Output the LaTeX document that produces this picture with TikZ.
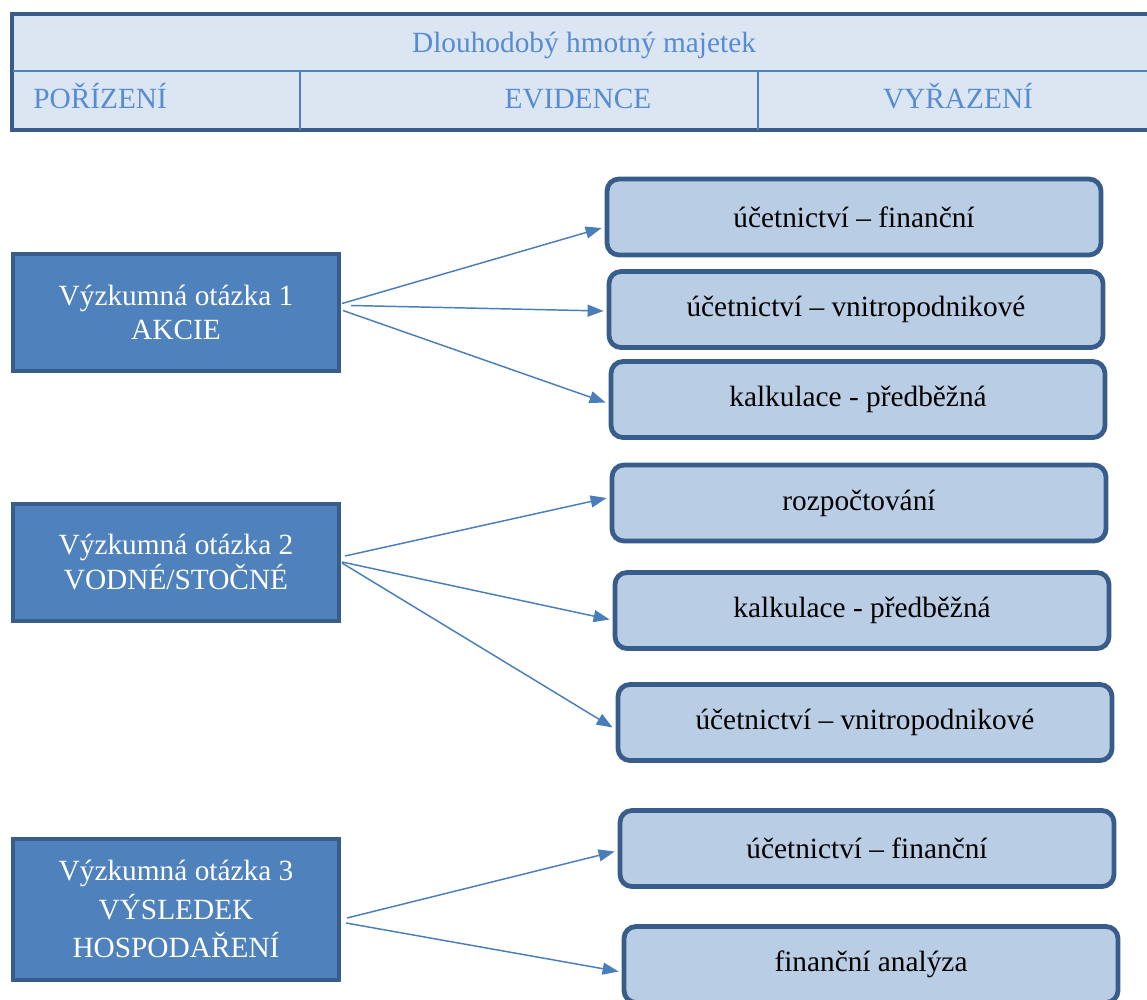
\documentclass[tikz,border=0pt]{standalone}
\usepackage{fontspec}
\setmainfont{Liberation Serif}
\usetikzlibrary{calc,arrows.meta}

\definecolor{qfill}{RGB}{79,129,189}
\definecolor{qborder}{RGB}{56,93,138}
\definecolor{afill}{RGB}{185,205,229}
\definecolor{hfill}{RGB}{220,230,242}
\definecolor{htext}{RGB}{85,140,210}
\definecolor{linkcol}{RGB}{74,126,187}

\tikzset{
  basefont/.style={font=\fontsize{22}{26}\selectfont},
  question/.style={draw=qborder, fill=qfill, line width=3pt, text=white,
    align=center, inner sep=0pt, minimum width=326*0.75pt, basefont},
  answer/.style={draw=qborder, fill=afill, line width=3.6pt, rounded corners=9pt,
    inner sep=0pt, minimum width=494*0.75pt, minimum height=76*0.75pt, basefont},
  headtext/.style={text=htext, inner sep=0pt, basefont},
  divider/.style={draw=qfill, line width=1.3pt},
  link/.style={draw=linkcol, line width=1.1pt, -{Triangle[length=12pt,width=9pt]}}
}

\begin{document}
\begin{tikzpicture}[x=0.75pt,y=-0.75pt]
\useasboundingbox (0,0) rectangle (1147,1000);
\clip (0,0) rectangle (1147,1000);

% header table
\node[draw=qborder, fill=hfill, line width=3pt, inner sep=0pt,
      minimum width=1148*0.75pt, minimum height=116*0.75pt] (hdr) at (586,72) {};
\draw[divider] (13,71) -- (1160,71);
\draw[divider, line width=1pt] (300,72) -- (300,130);
\draw[divider, line width=1pt] (758,72) -- (758,130);
\node[headtext, anchor=base] (title) at (584,52) {Dlouhodobý hmotný majetek};
\node[headtext, anchor=base west] (h1) at (33,108) {POŘÍZENÍ};
\node[headtext, anchor=base] (h2) at (578,108) {EVIDENCE};
\node[headtext, anchor=base] (h3) at (958,108) {VYŘAZENÍ};

% research questions
\node[question, minimum height=117*0.75pt] (q1) at (176,312.5)
  {Výzkumná otázka 1\\AKCIE};
\node[question, minimum height=117*0.75pt] (q2) at (176,562)
  {Výzkumná otázka 2\\VODNÉ/STOČNÉ};
\node[question, minimum height=141*0.75pt,
      font=\fontsize{22}{29}\selectfont] (q3) at (176,909)
  {Výzkumná otázka 3\\VÝSLEDEK\\HOSPODAŘENÍ};

% topics
\node[answer] (r1) at (854,217)   {účetnictví – finanční};
\node[answer] (r2) at (856,309.5) {účetnictví – vnitropodnikové};
\node[answer] (r3) at (858,399.5) {kalkulace - předběžná};
\node[answer] (r4) at (859,503)   {rozpočtování};
\node[answer] (r5) at (862,610.5) {kalkulace - předběžná};
\node[answer] (r6) at (865,722.5) {účetnictví – vnitropodnikové};
\node[answer] (r7) at (867,848.5) {účetnictví – finanční};
\node[answer] (r8) at (871,964.5) {finanční analýza};

% connectors
\draw[link] ($(q1.east)+(1,-9)$)  -- ($(r1.west)+(-3,11)$);
\draw[link] ($(q1.east)+(10,-7)$) -- ($(r2.west)+(-3,1.5)$);
\draw[link] ($(q1.east)+(2,-2)$)  -- ($(r3.west)+(-3,3)$);
\draw[link] ($(q2.east)+(4,-6)$)  -- ($(r4.west)+(-3,-5)$);
\draw[link] ($(q2.east)+(1,0)$)   -- ($(r5.west)+(-3,9)$);
\draw[link] ($(q2.east)+(1,1)$)   -- ($(r6.west)+(-3,5)$);
\draw[link] ($(q3.east)+(6,9)$)   -- ($(r7.west)+(-3,3)$);
\draw[link] ($(q3.east)+(5,14)$)  -- ($(r8.west)+(-3,7)$);
\end{tikzpicture}
\end{document}
